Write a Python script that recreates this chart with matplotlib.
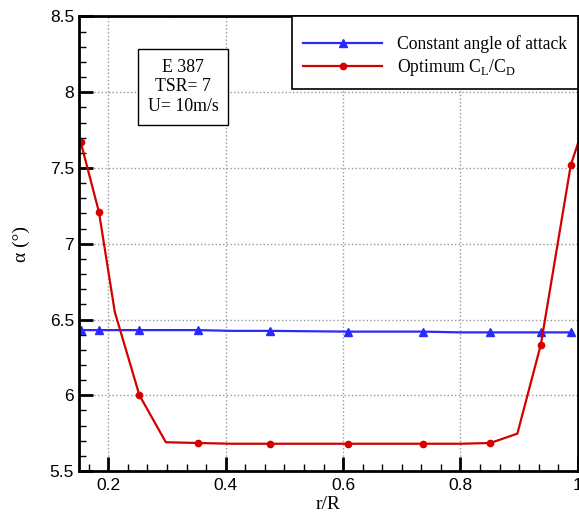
import matplotlib

matplotlib.use("Agg")
import matplotlib.pyplot as plt
from matplotlib.ticker import AutoMinorLocator, FuncFormatter, MultipleLocator

# data
const_x = [0.153, 0.184, 0.253, 0.353, 0.41, 0.476, 0.608, 0.737, 0.80, 0.851, 0.937, 0.988]
const_y = [6.43, 6.43, 6.43, 6.43, 6.425, 6.425, 6.42, 6.42, 6.415, 6.415, 6.415, 6.415]
const_marks = [0, 1, 2, 3, 5, 6, 7, 9, 10, 11]

opt_x = [0.153, 0.184, 0.211, 0.253, 0.298, 0.353, 0.41, 0.476, 0.608, 0.737, 0.80, 0.851, 0.897, 0.937, 0.988, 1.0]
opt_y = [7.67, 7.21, 6.55, 6.0, 5.69, 5.685, 5.68, 5.68, 5.68, 5.68, 5.68, 5.685, 5.747, 6.335, 7.52, 7.66]
opt_marks = [0, 1, 3, 5, 7, 8, 9, 11, 13, 14]

SERIF = "Liberation Serif"
SANS = "Liberation Sans"

plt.rcParams["mathtext.fontset"] = "custom"
plt.rcParams["mathtext.rm"] = SERIF

fig = plt.figure(figsize=(5.79, 5.15), dpi=100)
ax = fig.add_axes([0.1364, 0.0854, 0.8616, 0.8826])

ax.plot(const_x, const_y, color="#2a2aff", lw=1.6, marker="^", ms=6,
        markevery=const_marks, label="Constant angle of attack")
ax.plot(opt_x, opt_y, color="#d40000", lw=1.6, marker="o", ms=4.5,
        markevery=opt_marks, label=r"Optimum C$_\mathregular{L}$/C$_\mathregular{D}$")

ax.set_xlim(0.15, 1.0)
ax.set_ylim(5.5, 8.5)
ax.xaxis.set_major_locator(MultipleLocator(0.2))
ax.xaxis.set_minor_locator(AutoMinorLocator(6))
ax.yaxis.set_major_locator(MultipleLocator(0.5))
ax.yaxis.set_minor_locator(AutoMinorLocator(5))
ax.xaxis.set_major_formatter(FuncFormatter(lambda v, p: f"{v:g}"))
ax.yaxis.set_major_formatter(FuncFormatter(lambda v, p: f"{v:g}"))

ax.tick_params(which="major", direction="in", length=10, width=2, labelsize=12.5)
ax.tick_params(axis="x", which="major", pad=5)
ax.tick_params(which="minor", direction="in", length=5, width=1)
for lab in ax.get_xticklabels() + ax.get_yticklabels():
    lab.set_fontfamily(SANS)
for s in ax.spines.values():
    s.set_linewidth(2)

ax.grid(True, which="major", color="#999999", ls=":", lw=1)
ax.set_axisbelow(True)

ax.set_xlabel("r/R", fontfamily=SERIF, fontsize=14, labelpad=2)
ax.set_ylabel("α (°)", fontfamily=SERIF, fontsize=14, labelpad=14)

leg = ax.legend(loc="upper right", bbox_to_anchor=(1.0, 1.0), borderaxespad=0,
                prop={"family": SERIF, "size": 12.7}, fancybox=False,
                edgecolor="black", framealpha=1, handlelength=4.5,
                handletextpad=0.85, borderpad=0.6, labelspacing=0.2,
                title=" ", title_fontsize=4)
leg.get_frame().set_linewidth(1.2)

ax.text(0.209, 0.8455, "E 387\nTSR= 7\nU= 10m/s", transform=ax.transAxes,
        ha="center", va="center", fontfamily=SERIF, fontsize=12.8,
        linespacing=1.2,
        bbox=dict(boxstyle="square,pad=0.55", fc="white", ec="black", lw=1))

fig.savefig("out.png", dpi=100)
